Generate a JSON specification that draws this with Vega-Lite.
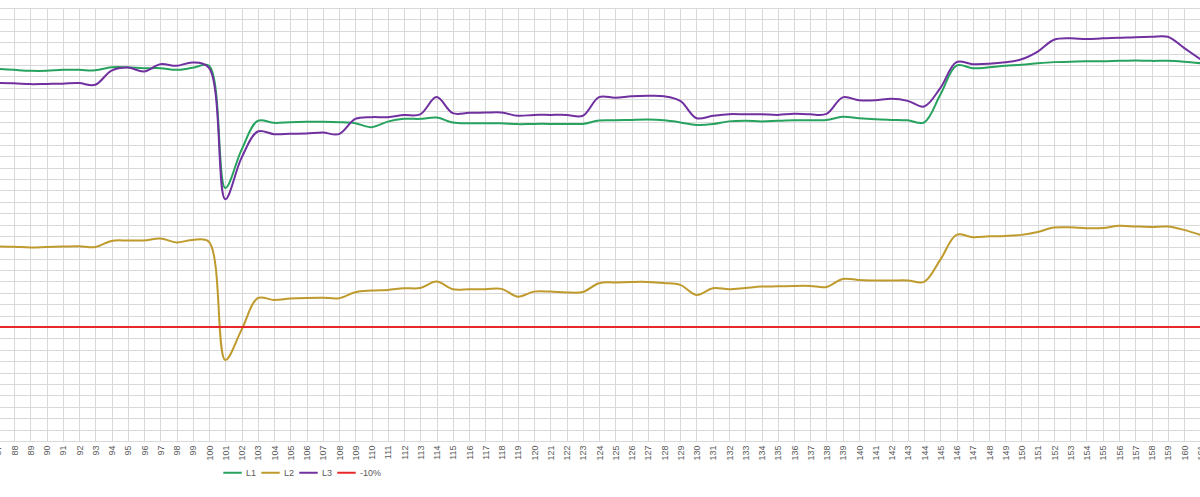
{
  "$schema": "https://vega.github.io/schema/vega-lite/v6.json",
  "width": 1200,
  "height": 433,
  "autosize": {"type": "none"},
  "padding": {"top": 8, "left": 0, "right": 0, "bottom": 56},
  "background": "white",
  "config": {"view": {"stroke": null}, "font": "Liberation Sans"},
  "data": {"values": [
    {"x":87,"L1":12.66,"L2":-2.92,"L3":11.41,"-10%":-10},
    {"x":88,"L1":12.57,"L2":-2.95,"L3":11.39,"-10%":-10},
    {"x":89,"L1":12.49,"L2":-3.02,"L3":11.32,"-10%":-10},
    {"x":90,"L1":12.49,"L2":-2.98,"L3":11.34,"-10%":-10},
    {"x":91,"L1":12.57,"L2":-2.94,"L3":11.36,"-10%":-10},
    {"x":92,"L1":12.57,"L2":-2.9,"L3":11.41,"-10%":-10},
    {"x":93,"L1":12.53,"L2":-2.98,"L3":11.26,"-10%":-10},
    {"x":94,"L1":12.8,"L2":-2.44,"L3":12.51,"-10%":-10},
    {"x":95,"L1":12.8,"L2":-2.4,"L3":12.78,"-10%":-10},
    {"x":96,"L1":12.72,"L2":-2.4,"L3":12.43,"-10%":-10},
    {"x":97,"L1":12.72,"L2":-2.22,"L3":13.07,"-10%":-10},
    {"x":98,"L1":12.57,"L2":-2.57,"L3":12.93,"-10%":-10},
    {"x":99,"L1":12.75,"L2":-2.35,"L3":13.22,"-10%":-10},
    {"x":100,"L1":12.93,"L2":-2.53,"L3":12.75,"-10%":-10},
    {"x":101,"L1":2.21,"L2":-12.89,"L3":1.22,"-10%":-10},
    {"x":102,"L1":5.55,"L2":-10.25,"L3":4.85,"-10%":-10},
    {"x":103,"L1":8.1,"L2":-7.47,"L3":7.16,"-10%":-10},
    {"x":104,"L1":7.92,"L2":-7.62,"L3":6.93,"-10%":-10},
    {"x":105,"L1":7.98,"L2":-7.5,"L3":6.96,"-10%":-10},
    {"x":106,"L1":8.01,"L2":-7.44,"L3":6.98,"-10%":-10},
    {"x":107,"L1":8.01,"L2":-7.42,"L3":7.07,"-10%":-10},
    {"x":108,"L1":7.98,"L2":-7.47,"L3":6.93,"-10%":-10},
    {"x":109,"L1":7.89,"L2":-6.94,"L3":8.27,"-10%":-10},
    {"x":110,"L1":7.54,"L2":-6.8,"L3":8.42,"-10%":-10},
    {"x":111,"L1":8.03,"L2":-6.74,"L3":8.42,"-10%":-10},
    {"x":112,"L1":8.27,"L2":-6.59,"L3":8.6,"-10%":-10},
    {"x":113,"L1":8.27,"L2":-6.57,"L3":8.67,"-10%":-10},
    {"x":114,"L1":8.39,"L2":-6.01,"L3":10.18,"-10%":-10},
    {"x":115,"L1":7.95,"L2":-6.68,"L3":8.77,"-10%":-10},
    {"x":116,"L1":7.88,"L2":-6.68,"L3":8.8,"-10%":-10},
    {"x":117,"L1":7.88,"L2":-6.68,"L3":8.82,"-10%":-10},
    {"x":118,"L1":7.88,"L2":-6.65,"L3":8.83,"-10%":-10},
    {"x":119,"L1":7.81,"L2":-7.33,"L3":8.54,"-10%":-10},
    {"x":120,"L1":7.83,"L2":-6.89,"L3":8.62,"-10%":-10},
    {"x":121,"L1":7.83,"L2":-6.89,"L3":8.62,"-10%":-10},
    {"x":122,"L1":7.83,"L2":-6.96,"L3":8.62,"-10%":-10},
    {"x":123,"L1":7.83,"L2":-6.92,"L3":8.54,"-10%":-10},
    {"x":124,"L1":8.12,"L2":-6.15,"L3":10.18,"-10%":-10},
    {"x":125,"L1":8.14,"L2":-6.08,"L3":10.12,"-10%":-10},
    {"x":126,"L1":8.18,"L2":-6.04,"L3":10.25,"-10%":-10},
    {"x":127,"L1":8.21,"L2":-6.04,"L3":10.29,"-10%":-10},
    {"x":128,"L1":8.14,"L2":-6.13,"L3":10.25,"-10%":-10},
    {"x":129,"L1":7.96,"L2":-6.3,"L3":9.85,"-10%":-10},
    {"x":130,"L1":7.74,"L2":-7.18,"L3":8.33,"-10%":-10},
    {"x":131,"L1":7.81,"L2":-6.59,"L3":8.54,"-10%":-10},
    {"x":132,"L1":8.05,"L2":-6.68,"L3":8.68,"-10%":-10},
    {"x":133,"L1":8.1,"L2":-6.57,"L3":8.67,"-10%":-10},
    {"x":134,"L1":8.05,"L2":-6.45,"L3":8.67,"-10%":-10},
    {"x":135,"L1":8.1,"L2":-6.43,"L3":8.62,"-10%":-10},
    {"x":136,"L1":8.14,"L2":-6.39,"L3":8.71,"-10%":-10},
    {"x":137,"L1":8.14,"L2":-6.39,"L3":8.67,"-10%":-10},
    {"x":138,"L1":8.18,"L2":-6.48,"L3":8.71,"-10%":-10},
    {"x":139,"L1":8.45,"L2":-5.78,"L3":10.16,"-10%":-10},
    {"x":140,"L1":8.32,"L2":-5.86,"L3":9.9,"-10%":-10},
    {"x":141,"L1":8.23,"L2":-5.91,"L3":9.9,"-10%":-10},
    {"x":142,"L1":8.18,"L2":-5.91,"L3":10.03,"-10%":-10},
    {"x":143,"L1":8.14,"L2":-5.91,"L3":9.85,"-10%":-10},
    {"x":144,"L1":7.95,"L2":-6.04,"L3":9.35,"-10%":-10},
    {"x":145,"L1":10.38,"L2":-4.11,"L3":10.97,"-10%":-10},
    {"x":146,"L1":12.95,"L2":-1.91,"L3":13.25,"-10%":-10},
    {"x":147,"L1":12.72,"L2":-2.11,"L3":13.07,"-10%":-10},
    {"x":148,"L1":12.79,"L2":-2.04,"L3":13.1,"-10%":-10},
    {"x":149,"L1":12.93,"L2":-2.0,"L3":13.23,"-10%":-10},
    {"x":150,"L1":13.01,"L2":-1.91,"L3":13.5,"-10%":-10},
    {"x":151,"L1":13.15,"L2":-1.65,"L3":14.18,"-10%":-10},
    {"x":152,"L1":13.25,"L2":-1.27,"L3":15.21,"-10%":-10},
    {"x":153,"L1":13.28,"L2":-1.25,"L3":15.34,"-10%":-10},
    {"x":154,"L1":13.32,"L2":-1.32,"L3":15.27,"-10%":-10},
    {"x":155,"L1":13.32,"L2":-1.3,"L3":15.34,"-10%":-10},
    {"x":156,"L1":13.36,"L2":-1.12,"L3":15.38,"-10%":-10},
    {"x":157,"L1":13.39,"L2":-1.17,"L3":15.44,"-10%":-10},
    {"x":158,"L1":13.36,"L2":-1.21,"L3":15.47,"-10%":-10},
    {"x":159,"L1":13.36,"L2":-1.18,"L3":15.47,"-10%":-10},
    {"x":160,"L1":13.28,"L2":-1.47,"L3":14.5,"-10%":-10},
    {"x":161,"L1":13.16,"L2":-1.91,"L3":13.51,"-10%":-10}
  ]},
  "transform": [{"fold": ["L1", "L2", "L3", "-10%"], "as": ["series", "value"]}],
  "mark": {"type": "line", "interpolate": "catmull-rom", "strokeWidth": 2, "clip": true},
  "encoding": {
    "x": {
      "field": "x", "type": "quantitative",
      "scale": {"domain": [87, 161], "range": [-2.25, 1200.25], "nice": false, "zero": false},
      "axis": {
        "title": null,
        "values": [87,88,89,90,91,92,93,94,95,96,97,98,99,100,101,102,103,104,105,106,107,108,109,110,111,112,113,114,115,116,117,118,119,120,121,122,123,124,125,126,127,128,129,130,131,132,133,134,135,136,137,138,139,140,141,142,143,144,145,146,147,148,149,150,151,152,153,154,155,156,157,158,159,160,161],
        "labelAngle": -90, "labelFontSize": 9, "labelColor": "#595959",
        "ticks": false, "labelPadding": 4,
        "grid": true, "gridColor": "#d9d9d9", "gridWidth": 1,
        "domainColor": "#d9d9d9",
        "labelFlush": false, "labelOverlap": false, "labelBound": false
      }
    },
    "y": {
      "field": "value", "type": "quantitative",
      "scale": {"domain": [-20, 18], "nice": false, "zero": false},
      "axis": {
        "title": null, "labels": false, "ticks": false, "domain": false,
        "grid": true, "gridColor": "#d9d9d9", "gridWidth": 1,
        "values": [-20,-19,-18,-17,-16,-15,-14,-13,-12,-11,-10,-9,-8,-7,-6,-5,-4,-3,-2,-1,0,1,2,3,4,5,6,7,8,9,10,11,12,13,14,15,16,17,18]
      }
    },
    "color": {
      "field": "series", "type": "nominal",
      "scale": {"domain": ["L1", "L2", "L3", "-10%"], "range": ["#27A35F", "#BF9A2C", "#7030A0", "#E8272A"]},
      "legend": {
        "title": null, "orient": "none", "legendX": 222, "legendY": 454,
        "direction": "horizontal", "symbolType": "stroke", "symbolSize": 340,
        "symbolStrokeWidth": 2, "labelFontSize": 9, "labelColor": "#595959",
        "columnPadding": 0, "labelOffset": 3, "padding": 0
      }
    }
  }
}
